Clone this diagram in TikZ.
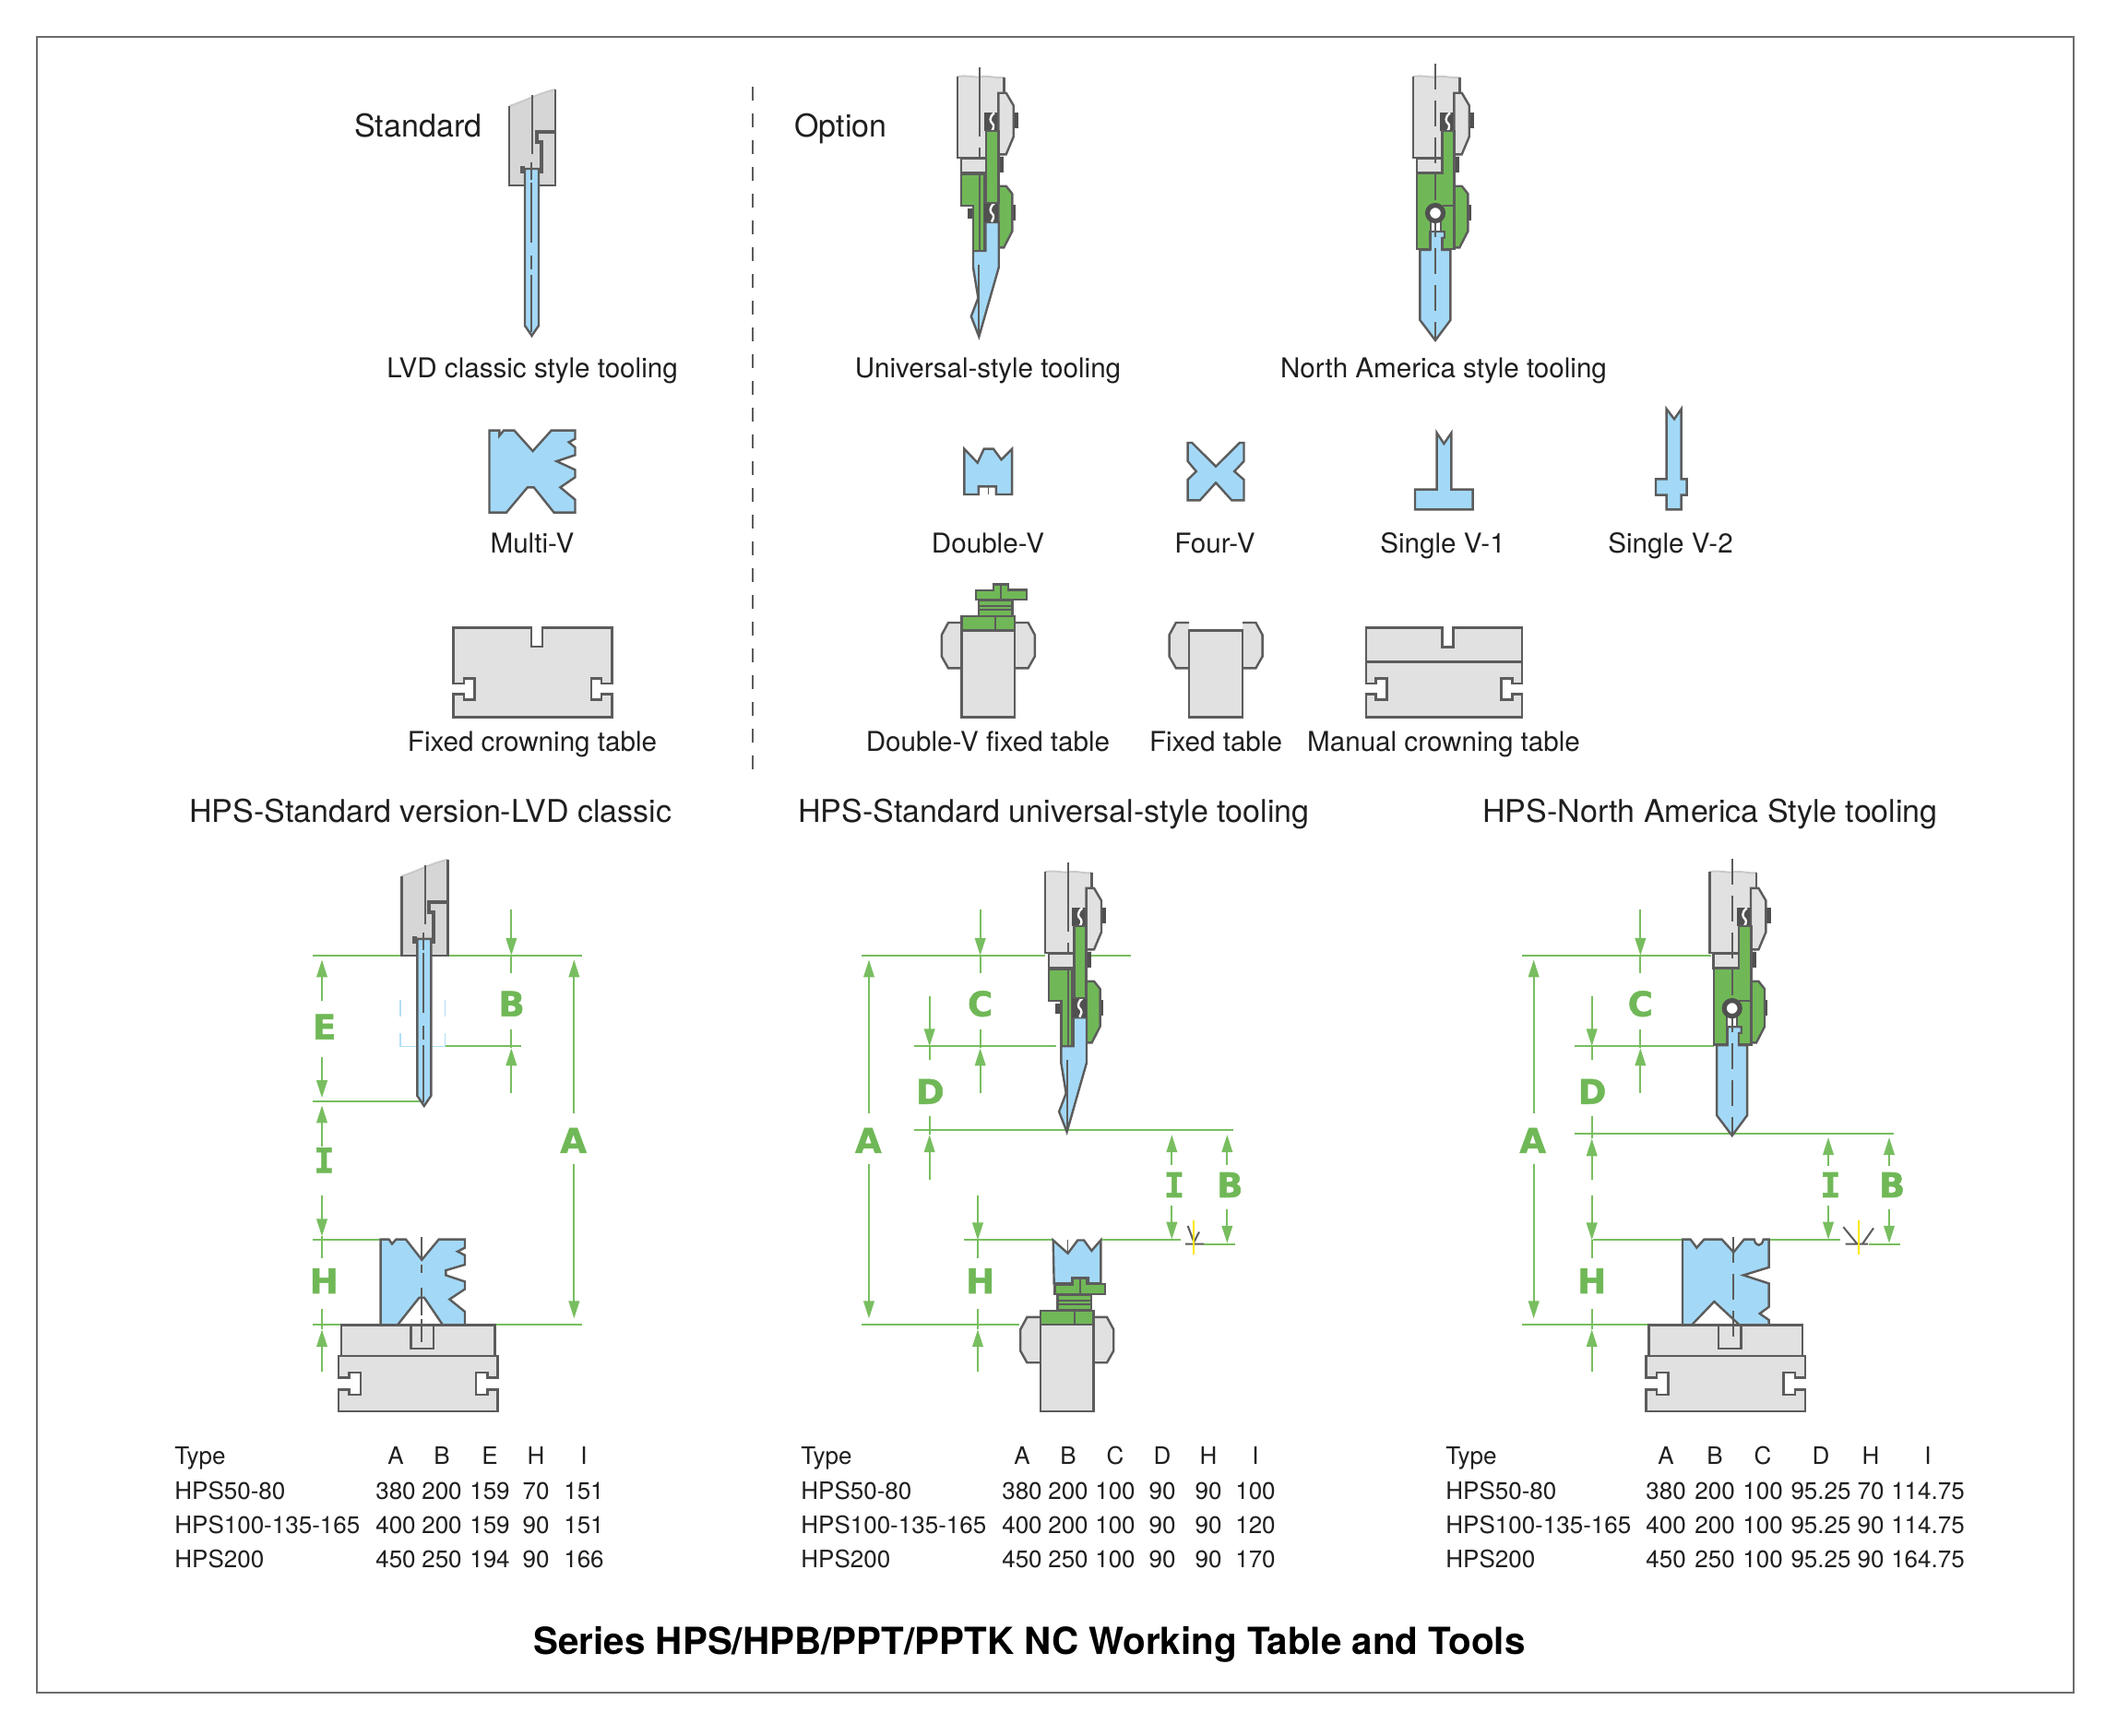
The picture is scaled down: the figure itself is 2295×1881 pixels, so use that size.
\documentclass[tikz,border=0pt]{standalone}
\usepackage{fontspec}
\setmainfont{TeX Gyre Heros}
\newfontfamily\dimfont{DejaVu Sans}[BoldFeatures={FakeBold=1.5}]
\newfontfamily\dimmono{DejaVu Sans Mono}[BoldFeatures={FakeBold=1.5}]
\usetikzlibrary{arrows.meta}

\definecolor{toolblue}{HTML}{A3D9F7}
\definecolor{toolgreen}{HTML}{70B857}
\definecolor{dimgreen}{HTML}{78BE60}
\definecolor{toolgray}{HTML}{E1E1E1}
\definecolor{edgegray}{HTML}{5C5C5C}
\definecolor{darkgray}{HTML}{505050}
\definecolor{palegray}{HTML}{C9C9C9}

\tikzset{
  steel/.style={fill=toolgray,draw=edgegray,line width=1.2pt},
  blade/.style={fill=toolblue,draw=edgegray,line width=1.2pt},
  holder/.style={fill=toolgreen,draw=edgegray,line width=1.2pt},
  solid block/.style={fill=darkgray,draw=none},
  axisline/.style={draw=edgegray,line width=1pt},
  dimline/.style={draw=dimgreen,line width=1pt},
  dimarrow/.style={dimline,-{Triangle[length=9.5pt,width=5.8pt]}},
  dimlabel/.style={text=toolgreen,inner sep=0pt,font=\dimfont\bfseries\fontsize{18.5}{18.5}\selectfont},
  dimlabelI/.style={text=toolgreen,inner sep=0pt,font=\dimmono\bfseries\fontsize{18.5}{18.5}\selectfont},
  caption/.style={inner sep=0pt,anchor=base,font=\fontsize{14.8}{14.8}\selectfont,text=black!88},
  heading/.style={inner sep=0pt,anchor=base west,font=\fontsize{17}{17}\selectfont,text=black!88},
  cell/.style={inner sep=0pt,anchor=base,font=\fontsize{13}{13}\selectfont,text=black!88},
  celltype/.style={cell,anchor=base west},
  % zoomed grids, the shapes below were read off in these units
  gridtop/.style={shift={(480,440)},xscale=1/1.742,yscale=1/3},
  gridleft/.style={shift={(320,920)},xscale=1/3,yscale=1/2.45},
  gridmid/.style={shift={(920,920)},xscale=1/3,yscale=1/2.45},
  gridright/.style={shift={(1640,920)},xscale=1/3,yscale=1/2.45},
  % classic tooling
  lvdtool/.pic={
    \fill[toolgray!95!black] (-24,0) -- (-24,-86) .. controls (-8,-91) and (8,-100) .. (26,-104) -- (26,0) -- cycle;
    \draw[palegray,line width=1pt] (-24,-86) .. controls (-8,-91) and (8,-100) .. (26,-104);
    \draw[edgegray,line width=1.2pt] (-24,-86) -- (-24,0) -- (26,0) -- (26,-104);
    \draw[edgegray,line width=2pt] (26,-58) -- (5.7,-58) -- (5.7,-47) -- (10.7,-47) -- (10.7,-15) -- (-10,-15) -- (-10,-19) -- (-7,-19);
    \draw[axisline] (1.3,-98) -- (1.3,-34);
    \draw[blade] (-7,-18) -- (8,-18) -- (8,152) -- (.5,163) -- (-7,152) -- cycle;
    \foreach \a/\b in {-25/-6,-3/62,76/91,97/159}
      \draw[axisline] (0,\a) -- (0,\b);
  },
  % gray upper beam shared by the two other tool holders
  upperbeam/.pic={
    \fill[toolgray] (-24.3,0) -- (-24.3,-88) -- (26.3,-87) -- (26.3,0) -- cycle;
    \draw[palegray,line width=1pt] (-24.3,-88) .. controls (-12,-90) and (-4,-86) .. (3,-88) .. controls (10,-89) and (18,-86) .. (26.3,-87);
    \draw[edgegray,line width=1.2pt] (26.3,-70) -- (26.3,-87) (-24.3,-88) -- (-24.3,0) -- (7,0);
    \fill[solid block] (36.7,-48.7) rectangle (42,-31.7);
    \fill[solid block] (20.3,-1) rectangle (26,16.3);
    \fill[solid block] (5,-48.7) rectangle (20.3,-29);
    \draw[white,line width=1.2pt] (16,-48.7) .. controls (10,-44) and (11,-39) .. (14,-37) .. controls (16,-35) and (15,-31) .. (13,-29);
    \draw[steel] (20.3,-70.3) -- (28.7,-70.3) -- (36.7,-56.7) -- (36.7,-22.7) -- (28.7,-3.7) -- (18.7,-3.7) -- (18.7,-12) -- (20.3,-12) -- cycle;
    \draw[steel] (-20.3,.7) rectangle (7,16.3);
    \fill[solid block] (35.3,50.7) rectangle (38.7,68.3);
    \draw[holder] (20.3,30.7) -- (28.7,30.7) -- (35.3,39) -- (35.3,79.7) -- (26.3,97.3) -- (18.7,97.3) -- (18.7,90.7) -- (20.3,90.7) -- cycle;
  },
  unitool/.pic={
    \pic at (0,0) {upperbeam};
    \fill[solid block] (-13,55) rectangle (-7,65.7);
    \draw[blade] (-7,101) -- (6.4,101) -- (6.4,70) -- (20.7,70) -- (20.7,119) -- (-.7,194) -- (-9.2,172) -- (-1.6,152) -- (-7,119) -- cycle;
    \draw[holder] (-20.3,17.3) -- (5,17.3) -- (5,100.7) -- (-7,100.7) -- (-7,51.7) -- (-20.3,51.7) -- cycle;
    \fill[solid block] (5,49) rectangle (20.3,70);
    \draw[white,line width=1.2pt] (16,49.3) .. controls (10,54) and (11,59) .. (14,61) .. controls (16,63) and (15,67) .. (13,69.5);
    \draw[holder] (7,-29) rectangle (20.3,49);
    \foreach \a/\b in {-98/-23,-11/0,17.3/100.7}
      \draw[axisline] (.3,\a) -- (.3,\b);
    \draw[axisline] (-.7,116) -- (-.7,192);
  },
  natool/.pic={
    \pic at (0,0) {upperbeam};
    \draw[blade] (-16.6,100) -- (-5.5,100) -- (-5.5,80) -- (10,80) -- (10,87) -- (7.3,87) -- (7.3,100) -- (16.4,100) -- (16.4,176) -- (0,198) -- (-16.6,176) -- cycle;
    \draw[holder] (7.3,-29.3) -- (20.6,-29.3) -- (20.6,99.2) -- (7.3,99.2) -- (7.3,87) -- (10,87) -- (10,79.7) -- (-5.4,79.7) -- (-5.4,99.2) -- (-20,99.2) -- (-20,16.8) -- (7.3,16.8) -- cycle;
    \draw[edgegray,line width=1pt] (7.7,51.7) -- (20.6,51.7);
    \draw[fill=white,draw=edgegray,line width=1pt] (-5.4,68) rectangle (5.7,80);
    \draw[axisline,dash pattern=on 14pt off 6pt] (0,-102) -- (0,198);
    \draw[fill=white,draw=darkgray,line width=2.6pt] (0,60) ellipse (8.5 and 8.5);
  },
  % bottom part with the side grooves and the raised top with a slot
  crownbase/.pic={
    \draw[steel] (3,0) rectangle (169.7,33.5);
    \draw[steel] (78.7,0) rectangle (103.3,25.7);
    \draw[steel] (0,33.5) -- (172.7,33.5) -- (172.7,57.2) -- (161.7,57.2) -- (161.7,51.7) -- (149,51.7) -- (149,75.5) -- (161.7,75.5) -- (161.7,70.2) -- (172.7,70.2) -- (172.7,93.9) -- (0,93.9) -- (0,70.2) -- (11.7,70.2) -- (11.7,75.5) -- (24,75.5) -- (24,51.7) -- (11.7,51.7) -- (11.7,57.2) -- (0,57.2) -- cycle;
  },
  fixedtable/.pic={
    \draw[steel] (-28.9,-102.3) -- (-43.3,-102.3) -- (-50.5,-89) -- (-50.5,-65.7) -- (-43.3,-53) -- (-28.9,-53);
    \draw[steel] (28.9,-102.3) -- (43.3,-102.3) -- (50.5,-89) -- (50.5,-65.7) -- (43.3,-53) -- (28.9,-53);
    \draw[steel] (-28.9,-94) rectangle (28.9,0);
  },
  vadapter/.pic={
    \draw[holder] (-28.9,-109.3) rectangle (28.9,-94);
    \draw[edgegray,line width=1pt] (8.1,-109.3) -- (8.1,-94);
    \draw[holder] (-10.4,-126.6) rectangle (26,-109.6);
    \draw[edgegray,line width=1pt] (-10.4,-120.6) -- (26,-120.6) (-10.4,-116.6) -- (26,-116.6);
    \draw[holder] (-13.3,-137.3) -- (5.8,-137.3) -- (5.8,-144) -- (21.9,-144) -- (21.9,-138) -- (41.5,-138) -- (41.5,-127.3) -- (-13.3,-127.3) -- cycle;
    \draw[edgegray,line width=1pt] (13.8,-144) -- (13.8,-127.3);
  },
}

\begin{document}
\begin{tikzpicture}[x=.5pt,y=-.5pt]
  \useasboundingbox (0,0) rectangle (2295,1881);
  \draw[edgegray!90,line width=1pt] (40,40) rectangle (2248,1835);
  \draw[edgegray,line width=1pt,dash pattern=on 7.5pt off 7pt] (816,94) -- (816,842);

  \node[heading] (standard) at (384,148.5) {Standard};
  \node[heading] (option) at (861,148.5) {Option};

  %tools of the top row
  \pic at (576,201) {lvdtool};
  \pic at (1062,171) {unitool};
  \pic at (1556,171) {natool};

  \begin{scope}[gridtop]
    %Multi-V
    \draw[blade] (88,80) -- (107,80) -- (107,97) -- (115,80) -- (135,80) -- (170,147) -- (205,80) -- (250,80) -- (250,107) -- (238,118) -- (250,135) -- (250,160) -- (215,180) -- (250,208) -- (250,232) -- (222,265) -- (250,305) -- (250,347) -- (210,347) -- (172,265) -- (160,265) -- (120,347) -- (88,347) -- cycle;
    %Double-V
    \draw[blade] (985,140) -- (1010,185) -- (1022,140) -- (1040,140) -- (1055,175) -- (1075,140) -- (1075,288) -- (1045,288) -- (1045,262) -- (1012,262) -- (1012,288) -- (985,288) -- cycle;
    \draw[edgegray,line width=.6pt] (1030,262) -- (1030,288);
    %Four-V
    \draw[blade] (1407,120) -- (1415,120) -- (1460,197) -- (1505,120) -- (1513,120) -- (1513,180) -- (1495,213) -- (1513,240) -- (1513,307) -- (1490,307) -- (1460,250) -- (1430,307) -- (1407,307) -- (1407,240) -- (1423,213) -- (1407,180) -- cycle;
    %fixed crowning table
    \draw[steel] (20,722) -- (167,722) -- (167,783) -- (188,783) -- (188,722) -- (320,722) -- (320,903) -- (300,903) -- (300,887) -- (280,887) -- (280,955) -- (300,955) -- (300,938) -- (320,938) -- (320,1012) -- (20,1012) -- (20,938) -- (40,938) -- (40,955) -- (60,955) -- (60,887) -- (40,887) -- (40,903) -- (20,903) -- cycle;
  \end{scope}

  \begin{scope}[shift={(1400,430)},xscale=1/3,yscale=1/3]
    %Single V-1 and Single V-2
    \draw[blade] (473,118) -- (496,153) -- (520,118) -- (520,302) -- (590,302) -- (590,367) -- (402,367) -- (402,302) -- (473,302) -- cycle;
    \draw[blade] (1220,40) -- (1245,73) -- (1268,40) -- (1268,268) -- (1286,268) -- (1286,320) -- (1268,320) -- (1268,367) -- (1220,367) -- (1220,320) -- (1185,320) -- (1185,268) -- (1220,268) -- cycle;
    %manual crowning table
    \draw[steel] (243,752) -- (490,752) -- (490,814) -- (527,814) -- (527,752) -- (750,752) -- (750,933) -- (718,933) -- (718,917) -- (682,917) -- (682,985) -- (718,985) -- (718,968) -- (750,968) -- (750,1042) -- (243,1042) -- (243,968) -- (275,968) -- (275,985) -- (310,985) -- (310,917) -- (275,917) -- (275,933) -- (243,933) -- cycle;
    \draw[edgegray,line width=1.2pt] (243,862) -- (750,862);
  \end{scope}

  \pic at (1071.3,777.3) {fixedtable};
  \pic at (1071.3,777.3) {vadapter};
  \pic at (1318.1,777.3) {fixedtable};

  \foreach \x/\y/\name/\txt in {
    577/409/capA/LVD classic style tooling,
    1071/409/capB/Universal-style tooling,
    1565/409/capC/North America style tooling,
    577/599.5/capD/Multi-V,
    1071/599.5/capE/Double-V,
    1317/599.5/capF/Four-V,
    1564/599.5/capG/Single V-1,
    1811/599.5/capH/Single V-2,
    577/814.5/capI/Fixed crowning table,
    1071/814.5/capJ/Double-V fixed table,
    1318/814.5/capK/Fixed table,
    1565/814.5/capL/Manual crowning table}
    \node[caption] (\name) at (\x,\y) {\txt};

  \node[heading] (headA) at (205,891) {HPS-Standard version-LVD classic};
  \node[heading] (headB) at (865,891) {HPS-Standard universal-style tooling};
  \node[heading] (headC) at (1607,891) {HPS-North America Style tooling};

  %left diagram
  \begin{scope}[gridleft]
    \draw[dimline] (58,284) -- (932,284) (490,525) -- (735,525) (58,671) -- (415,671) (58,1040) -- (278,1040) (58,1265) -- (150,1265) (650,1265) -- (932,1265);
    \draw[toolblue!85,line width=.8pt] (342,402) -- (342,447) (342,490) -- (342,525) -- (487,525) -- (487,490) (487,447) -- (487,402);
    \foreach \x/\a/\b/\c in {87/405/295/295, 87/553/662/662, 87/792/682/682, 87/920/1030/1088, 87/1390/1277/1222, 703/162/284/330, 703/648/530/480, 907/703/295/295, 907/838/1248/1248}{
      \draw[dimline] (\x,\b) -- (\x,\c);
      \draw[dimarrow] (\x,\a) -- (\x,\b);
    }
    \node[dimlabel] (dimE) at (95,473) {E};
    \node[dimlabelI] (dimI) at (94,828) {I};
    \node[dimlabel] (dimH) at (94,1148) {H};
    \node[dimlabel] (dimB) at (704,412) {B};
    \node[dimlabel] (dimA) at (905,775) {A};
  \end{scope}
  \pic at (459.3,1035.9) {lvdtool};
  \pic at (366.7,1436.3) {crownbase};
  \begin{scope}[gridleft]
    \draw[blade] (278,1038) -- (305,1038) -- (315,1050) -- (328,1038) -- (360,1038) -- (412,1092) -- (467,1038) -- (552,1038) -- (552,1060) -- (528,1070) -- (552,1080) -- (552,1105) -- (490,1120) -- (490,1133) -- (552,1150) -- (552,1170) -- (502,1197) -- (552,1230) -- (552,1265) -- (480,1265) -- (420,1193) -- (403,1193) -- (333,1265) -- (278,1265) -- cycle;
    \foreach \a/\b in {1032/1095,1105/1128,1165/1240,1250/1310}
      \draw[axisline] (412,\a) -- (412,\b);
  \end{scope}

  %middle diagram
  \begin{scope}[gridmid]
    \draw[dimline] (42,284) -- (640,284) (790,284) -- (917,284) (214,525) -- (675,525) (214,747) -- (1252,747) (375,1040) -- (665,1040) (822,1040) -- (1080,1040) (1155,1050) -- (1257,1050) (42,1265) -- (555,1265);
    \foreach \x/\a/\b/\c in {66/703/295/295, 66/838/1248/1248, 428/162/284/330, 428/648/530/480, 263/392/525/560, 263/880/760/710, 420/920/1040/1088, 420/1390/1277/1222, 1051/840/760/760, 1051/948/1038/1038, 1231/840/760/760, 1231/958/1048/1048}{
      \draw[dimline] (\x,\b) -- (\x,\c);
      \draw[dimarrow] (\x,\a) -- (\x,\b);
    }
    \node[dimlabel] (dimAm) at (64,775) {A};
    \node[dimlabel] (dimCm) at (428,412) {C};
    \node[dimlabel] (dimDm) at (265,645) {D};
    \node[dimlabel] (dimHm) at (428,1148) {H};
    \node[dimlabelI] (dimIm) at (1059,893) {I};
    \node[dimlabel] (dimBm) at (1240,893) {B};
    \draw[edgegray,line width=1pt] (1095,1050) -- (1155,1050) (1103,1002) -- (1123,1045) -- (1140,1018);
    \draw[yellow!90!orange,line width=1pt] (1123,988) -- (1123,1078);
  \end{scope}
  \pic at (1157.3,1033.1) {unitool};
  \begin{scope}[gridmid]
    \draw[blade] (665,1040) -- (713,1075) -- (745,1040) -- (765,1040) -- (790,1068) -- (820,1040) -- (820,1155) -- (780,1155) -- (780,1140) -- (727,1140) -- (727,1155) -- (668,1155) -- cycle;
    \draw[edgegray,line width=.8pt] (713,1040) -- (713,1075);
  \end{scope}
  \pic at (1156.7,1530.2) {fixedtable};
  \pic at (1156.7,1530.2) {vadapter};

  %right diagram
  \begin{scope}[gridright]
    \draw[dimline] (30,284) -- (645,284) (202,525) -- (655,525) (202,757) -- (710,757) (715,757) -- (1238,757) (260,1040) -- (552,1040) (833,1040) -- (1065,1040) (1158,1050) -- (1260,1050) (30,1265) -- (442,1265);
    \foreach \x/\a/\b/\c in {68/703/295/295, 68/838/1248/1248, 415/162/284/330, 415/648/530/480, 257/392/525/560, 257/880/770/710, 257/920/1040/1088, 257/1390/1277/1222, 1026/843/767/767, 1026/948/1038/1038, 1224/843/767/767, 1224/958/1048/1048}{
      \draw[dimline] (\x,\b) -- (\x,\c);
      \draw[dimarrow] (\x,\a) -- (\x,\b);
    }
    \node[dimlabel] (dimAr) at (65,775) {A};
    \node[dimlabel] (dimCr) at (415,412) {C};
    \node[dimlabel] (dimDr) at (258,645) {D};
    \node[dimlabel] (dimHr) at (257,1148) {H};
    \node[dimlabelI] (dimIr) at (1033,893) {I};
    \node[dimlabel] (dimBr) at (1233,893) {B};
    \draw[edgegray,line width=1pt] (1082,1050) -- (1155,1050) (1075,1005) -- (1120,1050) (1137,1050) -- (1173,1008);
    \draw[yellow!90!orange,line width=1pt] (1124,988) -- (1124,1078);
  \end{scope}
  \pic at (1877.7,1033.1) {natool};
  \pic at (1784.3,1436.3) {crownbase};
  \begin{scope}[gridright]
    \draw[blade] (552,1038) -- (578,1038) -- (598,1060) -- (622,1038) -- (680,1038) -- (718,1072) -- (752,1038) -- (785,1038) .. controls (790,1058) and (810,1058) .. (815,1038) -- (833,1038) -- (833,1112) -- (750,1133) -- (833,1155) -- (833,1217) -- (803,1235) -- (833,1252) -- (833,1265) -- (737,1265) -- (655,1203) -- (582,1265) -- (552,1265) -- cycle;
    \draw[axisline,dash pattern=on 14pt off 6pt] (717,1032) -- (717,1310);
  \end{scope}

  %dimension tables
  \foreach \tab/\x in {a/189,b/868,c/1567}{
    \node[celltype] (type\tab) at (\x,1587) {Type};
    \node[celltype] (rowone\tab) at (\x,1625) {HPS50-80};
    \node[celltype] (rowtwo\tab) at (\x,1662) {HPS100-135-165};
    \node[celltype] (rowthree\tab) at (\x,1699) {HPS200};
  }
  \foreach \x/\h/\p/\q/\r in {429/A/380/400/450, 479/B/200/200/250, 531/E/159/159/194, 581/H/70/90/90, 633/I/151/151/166,
      1108/A/380/400/450, 1158/B/200/200/250, 1209/C/100/100/100, 1260/D/90/90/90, 1310/H/90/90/90, 1361/I/100/120/170,
      1806/A/380/400/450, 1859/B/200/200/250, 1911/C/100/100/100, 1974/D/95.25/95.25/95.25, 2028/H/70/90/90, 2090/I/114.75/114.75/164.75}{
    \node[cell] (head\x) at (\x,1587) {\h};
    \node[cell] (one\x) at (\x,1625) {\p};
    \node[cell] (two\x) at (\x,1662) {\q};
    \node[cell] (three\x) at (\x,1699) {\r};
  }

  \node[inner sep=0pt,anchor=base,font=\bfseries\fontsize{20.2}{20.2}\selectfont] (title) at (1116,1793) {Series HPS/HPB/PPT/PPTK NC Working Table and Tools};
\end{tikzpicture}
\end{document}
